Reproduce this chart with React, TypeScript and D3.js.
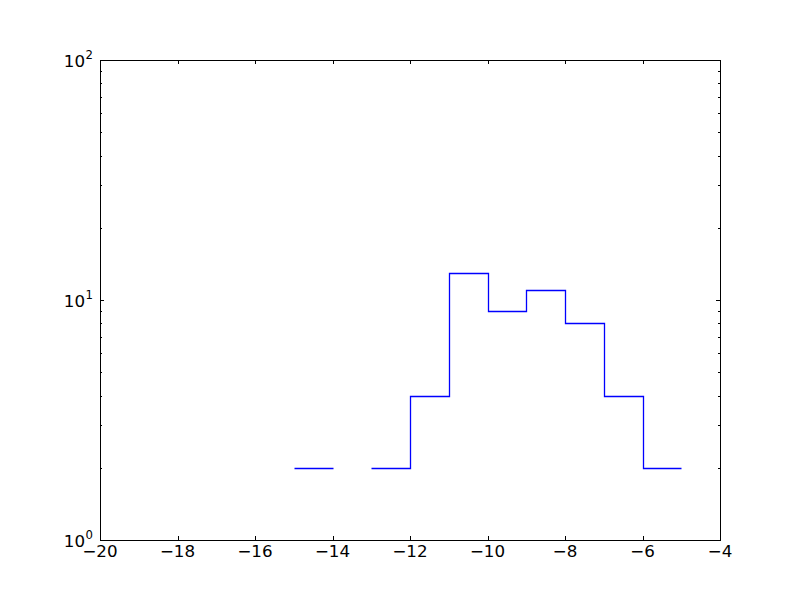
import React from "react";
import * as d3 from "d3";

const binEdges = [-15, -14, -13, -12, -11, -10, -9, -8, -7, -6, -5];
const counts = [2, 0, 2, 4, 13, 9, 11, 8, 4, 2];
const xTicks = [-20, -18, -16, -14, -12, -10, -8, -6, -4];
const yMajor = [1, 10, 100];
const yExp = ["0", "1", "2"];

const W = 800, H = 600;
const L = 100, R = 720, T = 60, B = 540;

export default function App() {
  const x = d3.scaleLinear().domain([-20, -4]).range([L, R]);
  const y = d3.scaleLog().domain([1, 100]).range([B, T]);
  const px = (v: number) => Math.round(v) + 0.5;

  const pts: [number, number, boolean][] = [];
  counts.forEach((c, i) => {
    pts.push([binEdges[i], c, c > 0]);
    pts.push([binEdges[i + 1], c, c > 0]);
  });
  const line = d3
    .line<[number, number, boolean]>()
    .defined((d) => d[2])
    .x((d) => px(x(d[0])))
    .y((d) => px(y(d[1])));

  const minor: number[] = [];
  for (let d = 1; d < 100; d *= 10) for (let k = 2; k <= 9; k++) minor.push(d * k);

  const font = "DejaVu Sans, sans-serif";
  return (
    <svg width={W} height={H} style={{ position: "absolute", left: 0, top: 0 }}>
      <rect x={0} y={0} width={W} height={H} fill="#fff" />
      <path d={line(pts) || ""} fill="none" stroke="#0000ff" strokeWidth={1.3} />
      {xTicks.map((t) => (
        <g key={"x" + t}>
          <line x1={px(x(t))} x2={px(x(t))} y1={B} y2={B - 4} stroke="#000" />
          <line x1={px(x(t))} x2={px(x(t))} y1={T} y2={T + 4} stroke="#000" />
          <text x={x(t)} y={B + 17} fontSize={16.7} fontFamily={font} textAnchor="middle">
            {(t < 0 ? "\u2212" : "") + Math.abs(t)}
          </text>
        </g>
      ))}
      {minor.map((m) => (
        <g key={"m" + m}>
          <line x1={L} x2={L + 2} y1={px(y(m))} y2={px(y(m))} stroke="#000" />
          <line x1={R} x2={R - 2} y1={px(y(m))} y2={px(y(m))} stroke="#000" />
        </g>
      ))}
      {yMajor.map((v, i) => (
        <g key={"y" + v}>
          <line x1={L} x2={L + 4} y1={px(y(v))} y2={px(y(v))} stroke="#000" />
          <line x1={R} x2={R - 4} y1={px(y(v))} y2={px(y(v))} stroke="#000" />
          <text x={85} y={y(v) + 7} fontSize={16.7} fontFamily={font} textAnchor="end">
            10
          </text>
          <text x={85.5} y={y(v) - 1} fontSize={11.7} fontFamily={font} textAnchor="start">
            {yExp[i]}
          </text>
        </g>
      ))}
      <rect x={L + 0.5} y={T + 0.5} width={R - L} height={B - T} fill="none" stroke="#000" strokeWidth={1} />
    </svg>
  );
}
